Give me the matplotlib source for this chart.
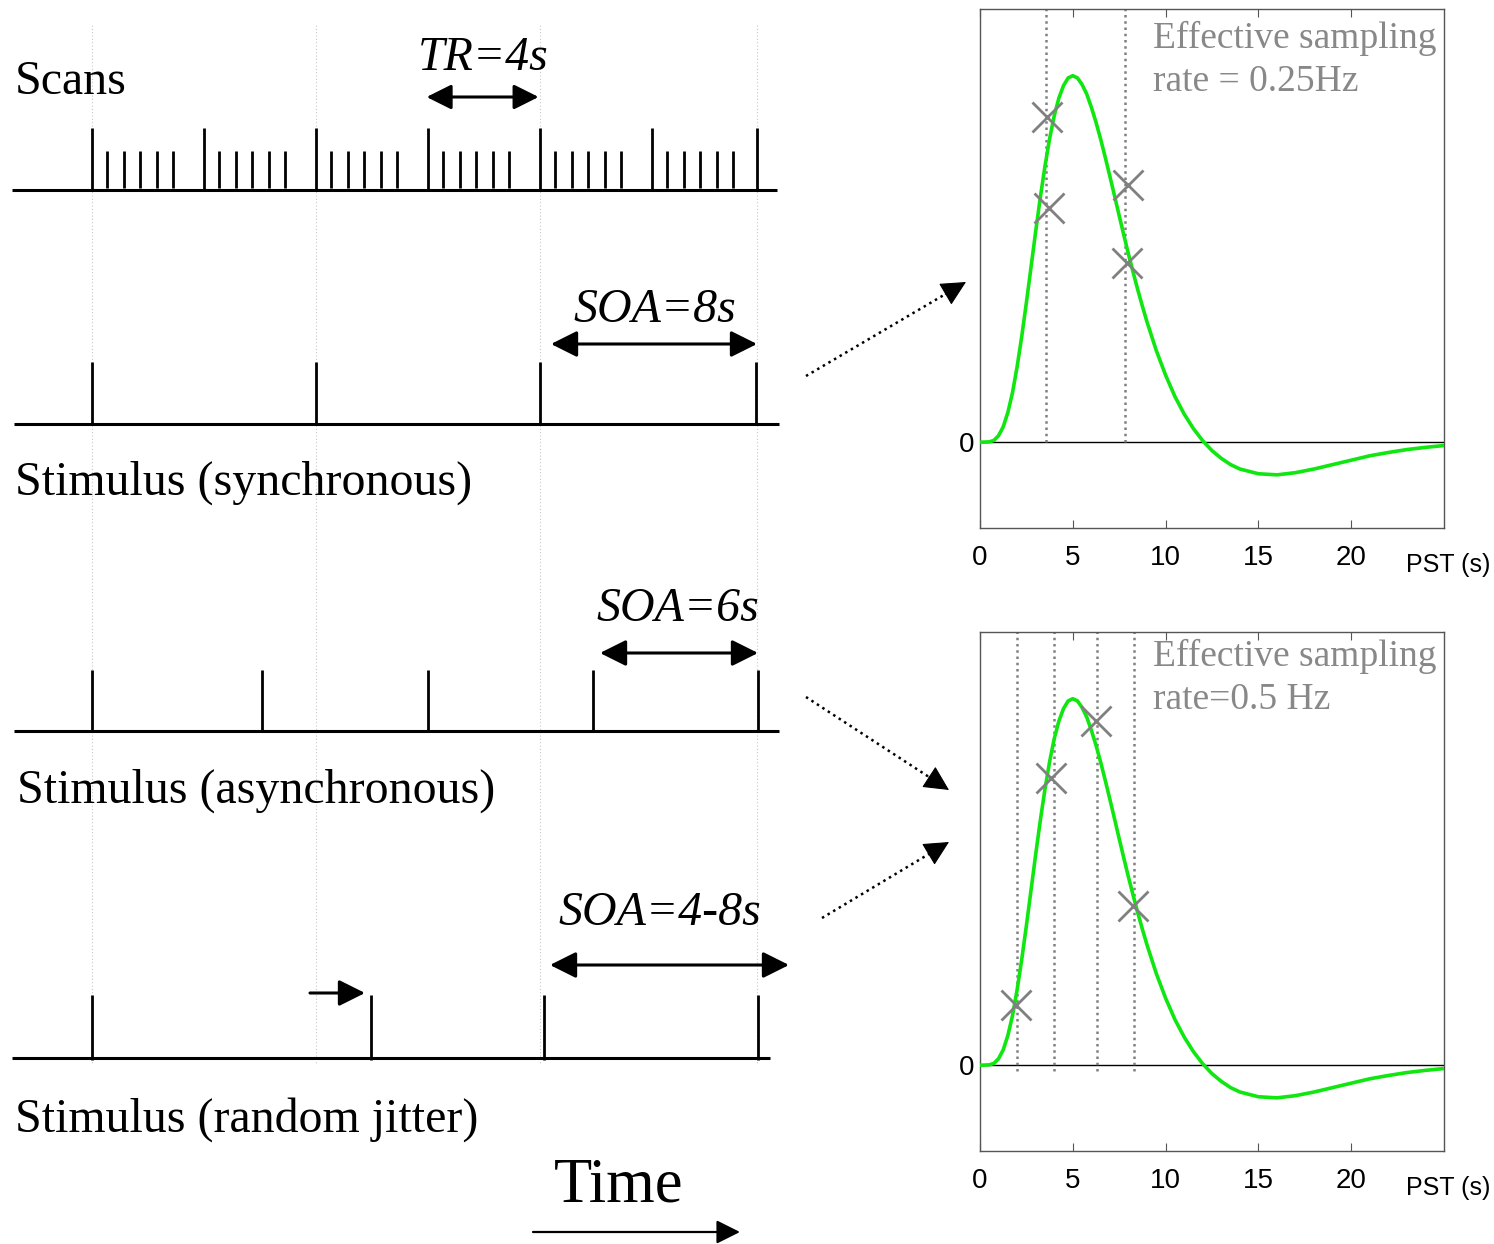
import matplotlib
matplotlib.use("Agg")
import matplotlib.pyplot as plt
import numpy as np

# ---------------- data ----------------
scan_times = [0, 4, 8, 12, 16, 20, 23.75]          # volume onsets (s)
slice_offsets = [0.55, 1.14, 1.73, 2.32, 2.91]      # slice acquisitions within a TR (s)
guide_times = [0, 8, 16, 23.75]                     # faint dotted guides
stim_sync = [0, 8, 16, 23.7]
stim_async = [0, 6.07, 12.0, 17.9, 23.8]
stim_jitter = [0, 9.96, 16.14, 23.8]

pst = [0, 0.5, 0.75, 1, 1.25, 1.5, 1.75, 2, 2.25, 2.5, 2.75, 3, 3.25, 3.5,
       3.75, 4, 4.25, 4.5, 4.75, 5, 5.25, 5.5, 5.75, 6, 6.25, 6.5, 6.75, 7,
       7.25, 7.5, 7.75, 8, 8.25, 8.5, 8.75, 9, 9.5, 10, 10.5, 11, 11.5, 12,
       12.5, 13, 13.5, 14, 15, 16, 17, 18, 19, 20, 21, 22, 23, 24, 25]
hrf = [0, 0.001, 0.005, 0.018, 0.042, 0.081, 0.135, 0.206, 0.289, 0.381,
       0.478, 0.575, 0.668, 0.753, 0.828, 0.891, 0.939, 0.973, 0.994, 1.0,
       0.994, 0.976, 0.950, 0.914, 0.873, 0.827, 0.777, 0.725, 0.672, 0.618,
       0.565, 0.513, 0.464, 0.416, 0.371, 0.328, 0.250, 0.183, 0.125, 0.077,
       0.037, 0.004, -0.023, -0.044, -0.061, -0.073, -0.086, -0.089, -0.083,
       -0.073, -0.061, -0.049, -0.037, -0.028, -0.020, -0.014, -0.009]

samp_t_top = [3.55, 7.8]
mark_t_top = [3.6, 3.7, 8.0, 7.9]
mark_v_top = [0.886, 0.640, 0.703, 0.490]

samp_t_bot = [2.0, 4.0, 6.3, 8.3]
mark_t_bot = [1.94, 3.83, 6.25, 8.24]
mark_v_bot = [0.164, 0.784, 0.940, 0.434]

xticks = [0, 5, 10, 15, 20]

# ---------------- figure ----------------
W, H = 1494, 1244
fig = plt.figure(figsize=(W / 100, H / 100), dpi=100)

SERIF = ['Liberation Serif', 'DejaVu Serif']
SANS = ['Liberation Sans', 'DejaVu Sans']

# left schematic axes: x in seconds, y in layout pixels
PXS = 28.0
x0 = 92.0
LW = 800.0
axl = fig.add_axes([0, 0, LW / W, 1])
axl.set_xlim(-x0 / PXS, (LW - x0) / PXS)
axl.set_ylim(H, 0)
axl.axis('off')

# faint guides
axl.vlines(guide_times, 25, 1065, colors='#c8c8c8', linestyles=(0, (1, 2)), lw=0.8, zorder=0)

def to_t(px):
    return (px - x0) / PXS

base_kw = dict(color='black', lw=2.2, solid_capstyle='butt')
# Scans
axl.plot([to_t(12), to_t(777)], [190, 190], **base_kw)
axl.vlines(scan_times, 128, 190, colors='black', lw=2.0)
small = [s + o for s in scan_times[:-1] for o in slice_offsets]
axl.vlines(small, 151, 188, colors='black', lw=2.0)

# Stimuli
axl.plot([to_t(14), to_t(779)], [424, 424], **base_kw)
axl.vlines(stim_sync, 362, 424, colors='black', lw=2.0)
axl.plot([to_t(14), to_t(779)], [731, 731], **base_kw)
axl.vlines(stim_async, 670, 731, colors='black', lw=2.0)
axl.plot([to_t(12), to_t(770)], [1058, 1058], **base_kw)
axl.vlines(stim_jitter, 995, 1060, colors='black', lw=2.0)

FS = 34.5
axl.text(to_t(15), 82, 'Scans', fontsize=FS, family=SERIF, va='center', ha='left')
axl.text(to_t(15), 483, 'Stimulus (synchronous)', fontsize=FS, family=SERIF, va='center', ha='left')
axl.text(to_t(17), 791, 'Stimulus (asynchronous)', fontsize=FS, family=SERIF, va='center', ha='left')
axl.text(to_t(15), 1120, 'Stimulus (random jitter)', fontsize=FS, family=SERIF, va='center', ha='left')
axl.text(to_t(483), 58, 'TR=4s', fontsize=FS, family=SERIF, style='italic', va='center', ha='center')
axl.text(to_t(655), 310, 'SOA=8s', fontsize=FS, family=SERIF, style='italic', va='center', ha='center')
axl.text(to_t(678), 609, 'SOA=6s', fontsize=FS, family=SERIF, style='italic', va='center', ha='center')
axl.text(to_t(660), 913, 'SOA=4-8s', fontsize=FS, family=SERIF, style='italic', va='center', ha='center')
axl.text(to_t(619), 1186, 'Time', fontsize=45, family=SERIF, va='center', ha='center')

def darrow(x1, x2, y, style='<|-|>', lw=2.2, ms=40):
    axl.annotate('', xy=(x2, y), xytext=(x1, y),
                 arrowprops=dict(arrowstyle=style, color='black', lw=lw,
                                 mutation_scale=ms, shrinkA=0, shrinkB=0))

darrow(11.95, 15.95, 97, ms=38)
darrow(to_t(551), to_t(757), 344)
darrow(to_t(600), to_t(758), 653)
darrow(to_t(550), to_t(789), 965)
darrow(to_t(310), to_t(365), 993, style='-|>')
darrow(to_t(533), to_t(740), 1232, style='-|>', lw=1.6, ms=36)

# ---------------- right panels ----------------
YL = (-0.234, 1.182)

def panel(rect, samp_t, mt, mv, lines, ybot, ylines):
    ax = fig.add_axes(rect)
    ax.set_xlim(0, 25)
    ax.set_ylim(*YL)
    for s in ax.spines.values():
        s.set_color('#555555')
        s.set_linewidth(1.0)
    ax.axhline(0, color='black', lw=1.0, zorder=1)
    ax.vlines(samp_t, ybot, YL[1], colors='#808080', linestyles=(0, (1, 1.5)), lw=1.8, zorder=2)
    ax.plot(pst, hrf, color='#10e610', lw=2.6, zorder=3, solid_joinstyle='round')
    ax.plot(mt, mv, ls='none', marker='x', ms=22, mew=2.0, color='#808080', zorder=4)
    ax.set_xticks(xticks)
    ax.set_xticklabels([str(v) for v in xticks], family=SANS, fontsize=20)
    ax.set_yticks([0])
    ax.set_yticklabels(['0'], family=SANS, fontsize=20)
    ax.tick_params(axis='x', direction='in', length=6, width=0.8, color='#555555',
                   top=True, pad=12)
    ax.tick_params(axis='y', length=0, pad=4)
    ax.text(0.918, -0.072, 'PST (s)', transform=ax.transAxes, family=SANS,
            fontsize=18, ha='left', va='center')
    for txt, yy in zip(lines, ylines):
        ax.text(0.373, yy, txt, transform=ax.transAxes, family=SERIF,
                fontsize=27, color='#888888', ha='left', va='center')
    return ax

panel([980 / W, (H - 528) / H, 464 / W, 519 / H], samp_t_top, mark_t_top, mark_v_top,
      ['Effective sampling', 'rate = 0.25Hz'], 0.0, [0.944, 0.859])
panel([980 / W, (H - 1151) / H, 464 / W, 519 / H], samp_t_bot, mark_t_bot, mark_v_bot,
      ['Effective sampling', 'rate=0.5 Hz'], -0.015, [0.952, 0.869])

# ---------------- connecting dotted arrows (overlay) ----------------
axo = fig.add_axes([0, 0, 1, 1], facecolor='none')
axo.set_xlim(0, W)
axo.set_ylim(H, 0)
axo.axis('off')
for (a, b) in [((806, 376), (966, 282)), ((806, 697), (949, 790)), ((822, 918), (949, 842))]:
    a = np.array(a, float)
    b = np.array(b, float)
    d = (b - a) / np.hypot(*(b - a))
    mid = b - 18 * d
    axo.plot([a[0], mid[0]], [a[1], mid[1]], color='black', lw=1.8,
             linestyle=(0, (1, 1.6)), dash_capstyle='butt')
    axo.annotate('', xy=tuple(b), xytext=tuple(b - 24 * d),
                 arrowprops=dict(arrowstyle='-|>', color='black', lw=0.8,
                                 mutation_scale=40, shrinkA=0, shrinkB=0))

fig.savefig('out.png', dpi=100)
